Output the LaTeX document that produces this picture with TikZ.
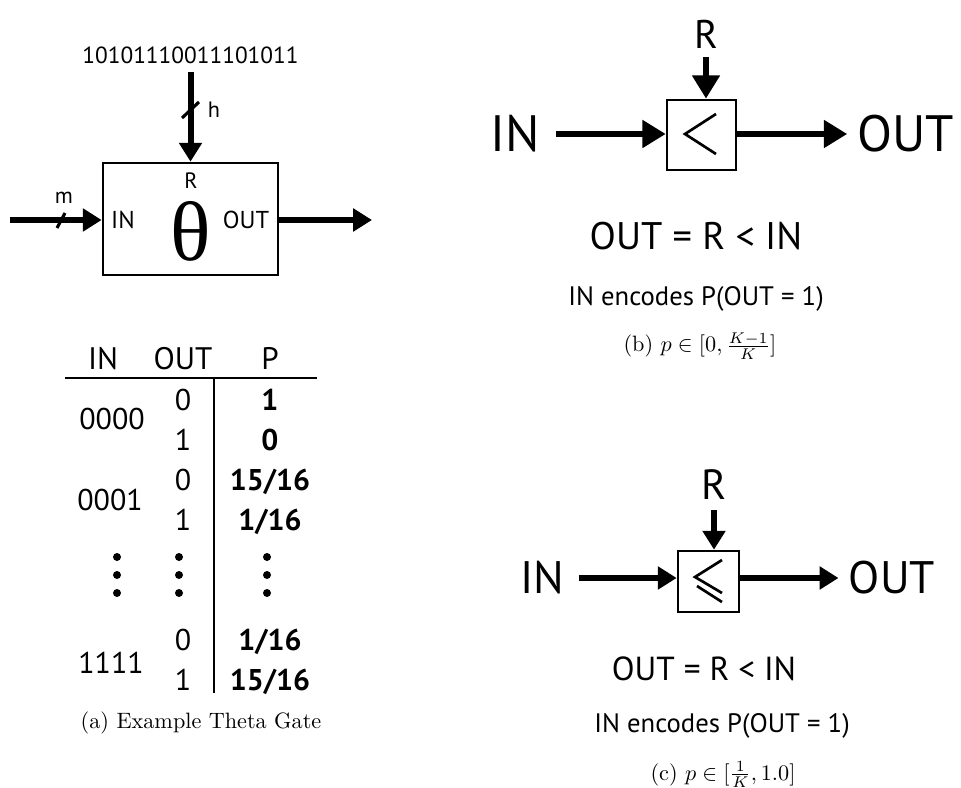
\documentclass[tikz,border=0pt]{standalone}
\usepackage[no-math]{fontspec}
\newfontfamily\gatefont{PT Sans}
\newfontfamily\thetafont{Liberation Serif}
\usetikzlibrary{arrows.meta,positioning}

\begin{document}
\begin{tikzpicture}[
        x=0.45pt, y=-0.45pt,
        lbl/.style={font=\gatefont\fontsize{#1}{#1}\selectfont, inner sep=0pt},
        blbl/.style={font=\gatefont\bfseries\fontsize{#1}{#1}\selectfont, inner sep=0pt},
        gate/.style={draw, line width=1.2pt, inner sep=0pt},
        bus/.style={line width=2.7pt, -{Triangle[length=8.5pt,width=10pt]}},
        bigbus/.style={line width=3pt, -{Triangle[length=10.5pt,width=12pt]}},
        tick/.style={line width=1.4pt},
        rule/.style={line width=1.2pt},
        symb/.style={line width=1.2pt},
        caption/.style={font=\fontsize{10}{12}\selectfont, inner sep=0pt, anchor=base}
    ]
        \useasboundingbox (0,0) rectangle (961,788);

        % (a) Theta gate
        \node[gate, minimum width=78.75pt, minimum height=50.4pt] (thgate) at (190.5,219) {};
        \node[lbl=10.5] (key) at (190.5,55) {10101110011101011};
        \node[lbl=10] (gr) at (191,181) {R};
        \node[lbl=11] (gin) at (123,220) {IN};
        \node[lbl=11] (gout) at (246,220) {OUT};
        \node[font=\thetafont\fontsize{38}{38}\selectfont, inner sep=0pt] (theta) at (191,231) {θ};
        \node[lbl=10] (hlbl) at (214,110) {h};
        \node[lbl=10] (mlbl) at (64,198) {m};
        \coordinate (ain) at (10,220);
        \coordinate (aout) at (372,220);

        \draw[bus, shorten <=3.5pt] (key.south) -- (thgate.north);
        \draw[bus] (ain) -- (ain -| thgate.west);
        \draw[bus] (aout -| thgate.east) -- (aout);
        \draw[tick] (182,118) -- (199,102);
        \draw[tick] (57,228) -- (65,213);

        % (a) table
        \node[lbl=14, anchor=base] (hin) at (103,370) {IN};
        \node[lbl=14, anchor=base] (hout) at (183,370) {OUT};
        \node[lbl=14, anchor=base] (hp) at (270,370) {P};
        \draw[rule] (65,378) -- (317,378);
        \draw[rule] (214,378) -- (214,693);

        \node[lbl=13.5, anchor=base] (in0) at (112,430) {0000};
        \node[lbl=13.5, anchor=base] (in1) at (110,510) {0001};
        \node[lbl=13.5, anchor=base] (in15) at (111,673) {1111};
        \foreach \y/\o/\p in {410/0/1, 450/1/0, 490/0/15\slash 16, 530/1/1\slash 16, 650/0/1\slash 16, 690/1/15\slash 16} {
            \node[lbl=13.5, anchor=base] (o\y) at (183,\y) {\o};
            \node[blbl=13.5, anchor=base] (p\y) at (270,\y) {\p};
        }
        \foreach \x in {117,179,267}
            \foreach \y in {557,575,593}
                \fill (\x,\y) circle[radius=1.8pt];

        \node[caption] (capa) at (201,728) {(a) Example Theta Gate};

        % (b) comparator
        \node[gate, minimum width=31pt, minimum height=31.5pt] (cmpb) at (701.5,135) {};
        \node[lbl=23] (inb) at (515,134) {IN};
        \node[lbl=23] (outb) at (906,134) {OUT};
        \node[lbl=18] (rb) at (706,34) {R};
        \draw[bigbus, shorten <=7pt] (inb.east) -- (inb.east -| cmpb.west);
        \draw[bigbus, shorten >=4.5pt] (cmpb.east |- outb.west) -- (outb.west);
        \draw[bigbus, shorten <=4pt] (rb.south) -- (rb.south |- cmpb.north);
        \draw[symb] (716,114) -- (685,134) -- (716,154);

        \node[lbl=17.3, anchor=base] (eqb) at (696,250) {OUT = R < IN};
        \node[lbl=12, anchor=base] (encb) at (696,306) {IN encodes P(OUT = 1)};
        \node[caption] (capb) at (700,352) {(b) $p \in [0, \frac{K-1}{K}]$};

        % (c) comparator
        \node[gate, minimum width=27.45pt, minimum height=27.45pt] (cmpc) at (708.5,581.5) {};
        \node[lbl=20.5] (inc) at (542,578) {IN};
        \node[lbl=20.5] (outc) at (892,578) {OUT};
        \node[lbl=19] (rc) at (714,485) {R};
        \draw[bus, shorten <=6.5pt] (inc.east) -- (inc.east -| cmpc.west);
        \draw[bus, shorten >=4.5pt] (cmpc.east |- outc.west) -- (outc.west);
        \draw[bus, shorten <=4.5pt] (rc.south) -- (rc.south |- cmpc.north);
        \draw[symb] (722,560) -- (695,577) -- (722,593);
        \draw[symb] (697,586) -- (722,602);

        \node[lbl=15, anchor=base] (eqc) at (704,680) {OUT = R < IN};
        \node[lbl=12, anchor=base] (encc) at (722,732) {IN encodes P(OUT = 1)};
        \node[caption] (capc) at (723,780) {(c) $p \in [\frac{1}{K}, 1.0]$};
    \end{tikzpicture}
\end{document}
